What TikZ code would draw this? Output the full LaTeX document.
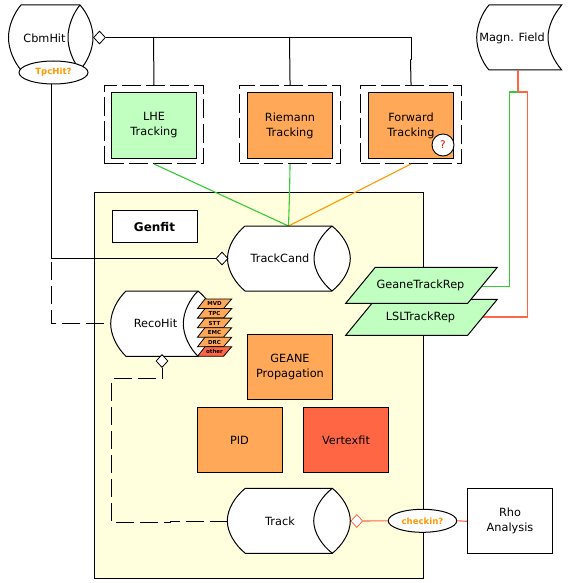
\documentclass[tikz,border=0pt]{standalone}
\usepackage{fontspec}
\setmainfont{DejaVu Sans}
\usetikzlibrary{shapes.geometric}
\definecolor{lgreen}{HTML}{C0FFC0}
\definecolor{lorange}{HTML}{FFA858}
\definecolor{lred}{HTML}{FF6644}
\definecolor{lyellow}{HTML}{FFFFDD}
\definecolor{lineorange}{HTML}{FF9900}
\definecolor{linegreen}{HTML}{33CC33}
\tikzset{
  ln/.style={black,line width=1pt},
  clr/.style={line width=1.1pt},
  boxn/.style={draw=black,line width=1pt,minimum width=85pt,minimum height=65pt,inner sep=0pt,align=center,font=\fontsize{11.3}{15}\selectfont,anchor=north west},
  dashbox/.style={draw=black,line width=1pt,dash pattern=on 19pt off 5pt,minimum width=100.5pt,minimum height=78pt,inner sep=0pt,anchor=north west},
  txt/.style={inner sep=0pt,font=\fontsize{11.3}{15}\selectfont,align=center},
  hot/.style={inner sep=0pt,font=\bfseries\fontsize{8.6}{9}\selectfont,text=lineorange},
  ell/.style={draw=black,fill=white,ellipse,line width=1pt,inner sep=0pt},
  dia/.style={draw=black,fill=white,diamond,line width=0.8pt,inner sep=0pt,minimum width=12pt,minimum height=13pt},
  tagn/.style={inner sep=0pt,font=\bfseries\fontsize{5.5}{6}\selectfont},
  dashln/.style={black,line width=1pt,dash pattern=on 18pt off 6pt},
}
\newcommand{\cyl}[7]{% xl xcl xcr xr xin ytop ybot
  \pgfmathsetmacro{\ymid}{(#6+#7)/2}
  \draw[ln,fill=white] (#2,#6) -- (#3,#6)
    .. controls ({#3+0.55*(#4-#3)},{#6+8}) and (#4,{\ymid-12}) .. (#4,\ymid)
    .. controls (#4,{\ymid+12}) and ({#3+0.55*(#4-#3)},{#7-8}) .. (#3,#7) -- (#2,#7)
    .. controls ({#2-0.55*(#2-#1)},{#7-8}) and (#1,{\ymid+12}) .. (#1,\ymid)
    .. controls (#1,{\ymid-12}) and ({#2-0.55*(#2-#1)},{#6+8}) .. (#2,#6) -- cycle;
  \draw[ln] (#3,#6) .. controls ({#3-0.55*(#3-#5)},{#6+8}) and (#5,{\ymid-12}) .. (#5,\ymid)
    .. controls (#5,{\ymid+12}) and ({#3-0.55*(#3-#5)},{#7-8}) .. (#3,#7);
}
\begin{document}
\begin{tikzpicture}[x=1pt,y=-1pt]
\useasboundingbox (0,0) rectangle (570,583);
% Genfit panel
\node[draw=black,fill=lyellow,line width=1pt,minimum width=328.5pt,minimum height=386.5pt,inner sep=0pt,anchor=north west] (panel) at (94,191.7) {};
% Top bus and connectors
\coordinate (busend) at (411,37.5);
\node[dia] (cbmdia) at (99.5,37.5) {};
\draw[ln] (cbmdia.east) -- (busend) -- (411,60);
% Tracking boxes
\node[dashbox,minimum width=99pt] (lhed) at (104,85) {};
\node[dashbox] (riemd) at (239.3,85) {};
\node[dashbox] (forwd) at (360.3,85) {};
\node[boxn,fill=lgreen] (lhe) at (111,92.5) {LHE\\Tracking};
\node[boxn,fill=lorange] (riem) at (247,92.5) {Riemann\\Tracking};
\node[boxn,fill=lorange] (forw) at (368,92.5) {Forward\\Tracking};
\node[draw=black,fill=white,circle,minimum size=22pt,inner sep=0pt,line width=0.9pt,text=red,font=\fontsize{10.5}{11}\selectfont] (qm) at (443,145) {?};
\draw[ln] (153.5,37.5) -- (lhed.north);
\draw[ln] (289.5,37.5) -- (riemd.north);
\draw[ln] (411,60) -- (410.5,60) -- (forwd.north);
% CbmHit
\cyl{8.5}{21}{80}{93}{68}{5}{70}
\node[txt] (cbm) at (44.5,38) {CbmHit};
\node[ell,minimum width=69pt,minimum height=23pt] (tpc) at (53.5,72.5) {};
\node[hot] at (tpc) {TpcHit?};
% Track cand
\coordinate (tip) at (288.5,226);
\draw[linegreen,clr] (lhed.south) -- (tip);
\draw[linegreen,clr] (riemd.south) -- (289.5,195) -- (tip);
\draw[lineorange,clr] (forwd.south) -- (tip);
\cyl{227.5}{245}{332}{350.3}{314}{226}{291}
\node[txt] (tc) at (280,258.5) {TrackCand};
\node[dia] (tcdia) at (222,258.5) {};
\coordinate (jv) at (51.5,258.5);
\draw[ln] (51.5,84) -- (jv) -- (tcdia.west);
% RecoHit
\cyl{110.7}{126}{198}{216}{183.3}{291}{356.3}
\node[txt] (reco) at (155.5,323.5) {RecoHit};
\foreach \i/\t/\c in {0/MVD/lorange,1/TPC/lorange,2/STT/lorange,3/EMC/lorange,4/DRC/lorange,5/other/lred}{
  \pgfmathsetmacro{\yt}{299+\i*9.55}
  \pgfmathsetmacro{\yb}{\yt+9.55}
  \draw[ln,line width=0.8pt,fill=\c] (205,\yt) -- (231.7,\yt) -- (223.5,\yb) -- (197.5,\yb) -- cycle;
  \node[tagn] at (214.5,\yt+4.9) {\t};
}
\node[dia] (recodia) at (162,361) {};
\draw[dashln,dash phase=21pt] (jv) -- (51.5,323.5) -- (110.7,323.5);
\draw[dashln,dash phase=7pt] (recodia.south) -- (162,378.5) -- (111.7,378.5) -- (111.7,522.7) -- (170,522.7) -- (170,521) -- (227.5,521);
% Genfit label
\node[boxn,fill=white,minimum height=32pt,font=\bfseries\fontsize{12}{12}\selectfont] (genfit) at (111.5,210.3) {Genfit};
% Colour boxes
\node[boxn,fill=lorange] (geane) at (247,334.3) {GEANE\\Propagation};
\node[boxn,fill=lorange] (pid) at (196.5,407.3) {PID};
\node[boxn,fill=lred] (vert) at (303,407.3) {Vertexfit};
% Track
\cyl{227.3}{245.3}{332.3}{350.3}{313.7}{488.3}{553.3}
\node[txt] (track) at (280,521) {Track};
\node[boxn,fill=white] (rho) at (467,488.3) {Rho\\Analysis};
\node[dia,draw=lred] (trdia) at (356.8,521) {};
\node[ell,minimum width=68.5pt,minimum height=23pt] (chk) at (422.5,520.8) {};
\node[hot] at (chk) {checkin?};
\draw[lred,clr] (trdia.east) -- (chk.west);
\draw[lred,clr] (chk.east) -- (rho.west);
% Magn field
\draw[ln,fill=white] (489,5) -- (561.7,5) .. controls (554,14) and (548,26) .. (548,37.5) .. controls (548,49) and (554,61) .. (561.7,70) -- (489,70) .. controls (482,62) and (476.7,49) .. (476.7,37.5) .. controls (476.7,26) and (482,13) .. (489,5) -- cycle;
\node[txt] (mag) at (512,38) {Magn. Field};
% Track reps
\coordinate (jn) at (518,92);
\draw[lred,clr] (518,70) -- (jn);
\draw[linegreen,clr] (jn) -- (509.5,92) -- (509.5,286.5) -- (481.7,286.5);
\draw[lred,clr] (jn) -- (527.5,92) -- (527.5,317) -- (482.5,317);
\draw[ln,fill=lgreen] (375.3,299.3) -- (497.3,299.3) -- (467.7,335.3) -- (345.7,335.3) -- cycle;
\node[txt] (lsl) at (420.5,317.3) {LSLTrackRep};
\draw[ln,fill=lgreen] (375.3,267.3) -- (497.3,267.3) -- (467.7,303.3) -- (345.7,303.3) -- cycle;
\node[txt] (gea) at (420.5,285) {GeaneTrackRep};
\end{tikzpicture}
\end{document}
